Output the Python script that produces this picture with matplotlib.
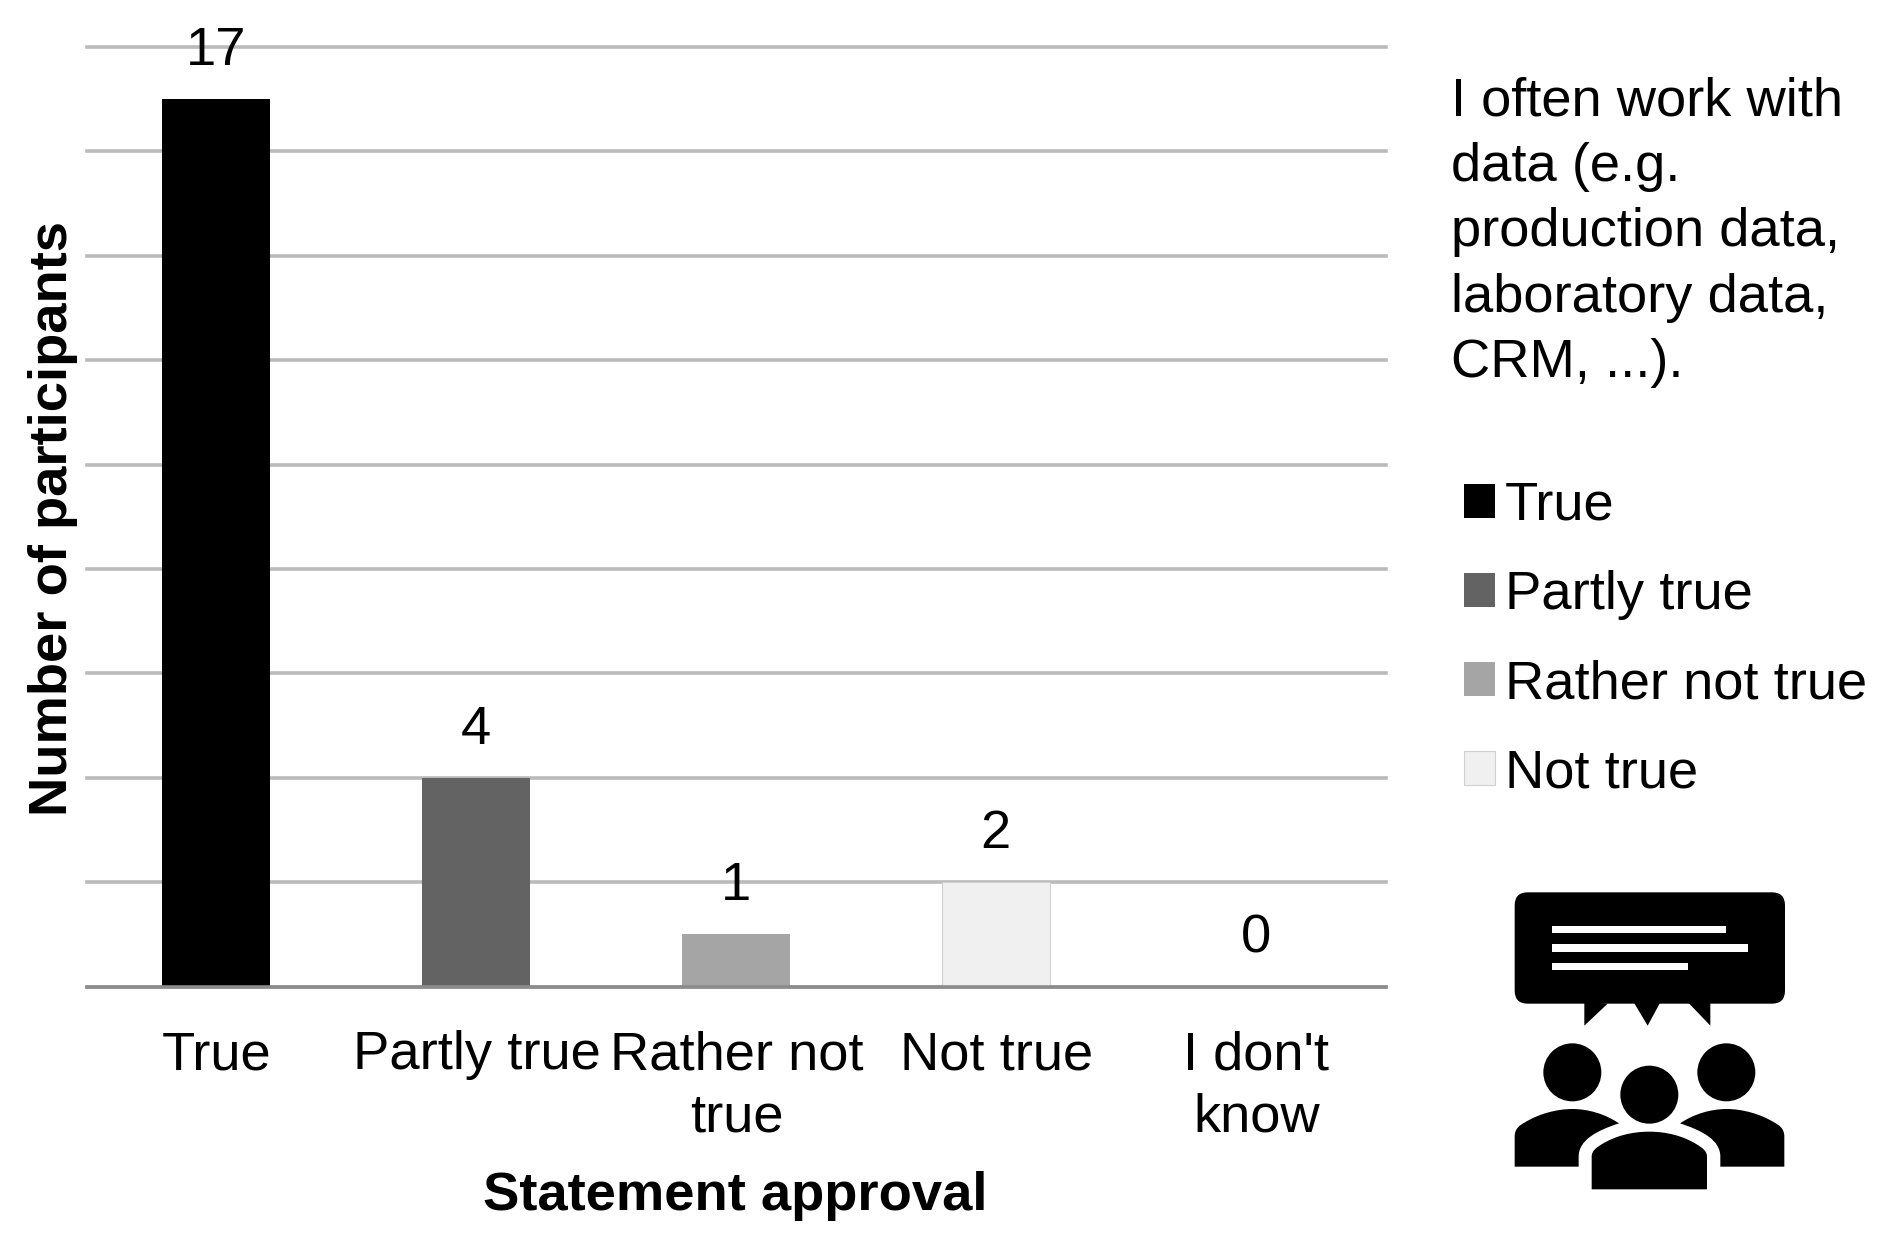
import matplotlib
matplotlib.use("Agg")
from matplotlib import pyplot as plt
from matplotlib.patches import Circle, FancyBboxPatch, PathPatch, Polygon, Rectangle
from matplotlib.path import Path

categories = ["True", "Partly true", "Rather not\ntrue", "Not true", "I don't\nknow"]
counts = [17, 4, 1, 2, 0]
bar_colors = ["#000000", "#636363", "#a5a5a5", "#f0f0f0", "#ffffff"]
legend_labels = ["True", "Partly true", "Rather not true", "Not true"]
y_ticks = [0, 2, 4, 6, 8, 10, 12, 14, 16, 18]
statement = "I often work with\ndata (e.g.\nproduction data,\nlaboratory data,\nCRM, ...)."

W, H = 1884, 1240
plt.rcParams['font.family'] = ['Liberation Sans', 'DejaVu Sans']
FS = 39.2

fig = plt.figure(figsize=(W / 100, H / 100), dpi=100)
ax = fig.add_axes([86.5 / W, 1 - 986.5 / H, 1300 / W, 939.5 / H])

ax.set_axisbelow(True)
ax.grid(axis='y', color='#bababa', linewidth=2.6)
bars = ax.bar([i - 0.002 for i in range(5)], counts, width=0.413, color=bar_colors)
bars[3].set_edgecolor('#d0d0d0')
bars[3].set_linewidth(0.8)
bars[4].set_visible(False)

for i, c in enumerate(counts):
    ax.annotate(str(c), (i, c), xytext=(-0.5, 34.5), textcoords='offset points',
                ha='center', va='center', fontsize=FS, annotation_clip=False)

ax.set_xlim(-0.5, 4.5)
ax.set_ylim(0, 18)
ax.set_yticks(y_ticks)
ax.set_yticklabels([])
ax.set_xticks(range(5))
ax.set_xticklabels(categories, fontsize=FS, linespacing=1.31)
ax.tick_params(axis='both', length=0)
ax.tick_params(axis='x', pad=31.5)
for line in ax.get_ygridlines():
    line.set_clip_on(False)
for s in ['top', 'left', 'right']:
    ax.spines[s].set_visible(False)
ax.spines['bottom'].set_color('#8c8c8c')
ax.spines['bottom'].set_linewidth(2.6)

fig.text(53.5 / W, 1 - 519 / H, "Number of participants", rotation=90, fontsize=FS,
         fontweight='bold', ha='center', va='center')
fig.text(735 / W, 1 - 1196 / H, "Statement approval", fontsize=FS,
         fontweight='bold', ha='center', va='center')
fig.text(1451 / W, 1 - 77 / H, statement, fontsize=FS, ha='left', va='top', linespacing=1.39)

legend = fig.legend(bars[:4], legend_labels, loc='upper left',
                    bbox_to_anchor=(1453 / W, 1 - 470 / H), frameon=False, fontsize=FS,
                    handlelength=0.58, handleheight=0.58, handletextpad=0.17,
                    labelspacing=0.72, borderpad=0.2, borderaxespad=0)

# icon, drawn in pixels of the picture
over = fig.add_axes([0, 0, 1, 1])
over.set_xlim(0, W)
over.set_ylim(H, 0)
over.axis('off')


def px(x, y):
    return 1440 + x / 3, 860 + y / 3


x0, y0 = px(224, 97)
x1, y1 = px(1035, 431)
over.add_patch(FancyBboxPatch((x0 + 13, y0 + 13), x1 - x0 - 26, y1 - y0 - 26,
                              boxstyle="round,pad=13,rounding_size=13", fc='k', ec='none'))
for a, b, top, bot in [(335, 857, 197, 219), (335, 923, 253, 275), (335, 745, 308, 330)]:
    xa, ya = px(a, top)
    xb, yb = px(b, bot)
    over.add_patch(Rectangle((xa, ya), xb - xa, yb - ya, fc='white', ec='none'))
for tail in [[(433, 425), (433, 497), (503, 431)],
             [(580, 425), (623, 497), (662, 425)],
             [(742, 425), (811, 497), (811, 425)]]:
    over.add_patch(Polygon([px(*p) for p in tail], fc='k', ec='none'))
for cx, cy in [(397, 637), (859, 637), (628, 704)]:
    over.add_patch(Circle(px(cx, cy), 87 / 3, fc='k', ec='none'))

M, L, C = Path.MOVETO, Path.LINETO, Path.CURVE4
left = [(224, 920), (224, 830), (224, 805), (240, 795), (255, 787), (295, 762), (350, 747), (397, 747),
        (445, 747), (495, 762), (537, 790), (470, 812), (416, 840), (416, 890), (416, 920), (224, 920)]
codes = [M, L, C, C, C, C, C, C, C, C, C, C, C, C, L, L]
center = [(455, 988), (455, 890), (455, 872), (470, 862), (485, 853), (525, 828), (575, 815), (628, 815),
          (680, 815), (730, 828), (770, 853), (785, 862), (801, 872), (801, 890), (801, 988), (455, 988)]
right = [(1257 - x, y) for x, y in left]
for shape in (left, center, right):
    over.add_patch(PathPatch(Path([px(*p) for p in shape], codes), fc='k', ec='none'))

plt.savefig("out.png", dpi=100)
